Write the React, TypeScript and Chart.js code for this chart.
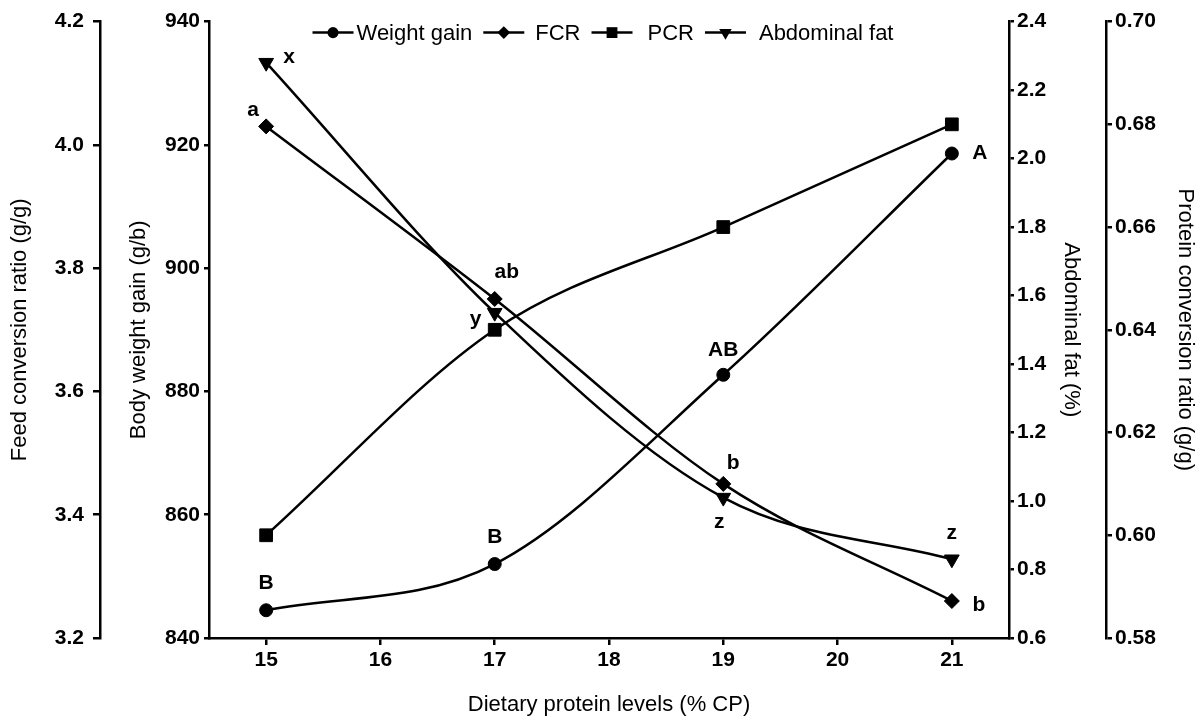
import React, { useEffect, useRef } from 'react';
import { Chart, registerables } from 'chart.js';

Chart.register(...registerables);

// ---------- data ----------
const xLevels = [15, 17, 19, 21];
const weightGain = [844.5, 852, 882.7, 918.6];
const fcr = [4.03, 3.75, 3.45, 3.26];
const pcr = [0.6, 0.64, 0.66, 0.68];
const abdominalFat = [2.28, 1.55, 1.01, 0.83];

const weightGainLetters = ['B', 'B', 'AB', 'A'];
const fcrLetters = ['a', 'ab', 'b', 'b'];
const abdominalFatLetters = ['x', 'y', 'z', 'z'];

const xTicks = [15, 16, 17, 18, 19, 20, 21];
const fcrTicks = [3.2, 3.4, 3.6, 3.8, 4.0, 4.2];
const bwgTicks = [840, 860, 880, 900, 920, 940];
const fatTicks = [0.6, 0.8, 1.0, 1.2, 1.4, 1.6, 1.8, 2.0, 2.2, 2.4];
const pcrTicks = [0.58, 0.6, 0.62, 0.64, 0.66, 0.68, 0.7];

const seriesNames = ['Weight gain', 'FCR', 'PCR', 'Abdominal fat'];

// ---------- styles ----------
const FAMILY = '"Liberation Sans", Arial, Helvetica, sans-serif';
const tickFont = { family: FAMILY, size: 21, weight: 'bold' as const };
const titleFont = { family: FAMILY, size: 22, weight: 'normal' as const };
const legendFontSize = 22;
const letterFontSize = 21;
const pointStyles = ['circle', 'rectRot', 'rect', 'triangle'];
const pointRotations = [0, 0, 0, 180];
const pointRadii = [6.5, 7.5, 9, 8.5];
const legendGaps = [3, 11, 15, 13];

const letterOffsets = {
  wg: [[0, -27], [0, -27], [0, -25], [28, 0]],
  fcr: [[-13, -16], [12, -27], [10, -21], [27, 4]],
  fat: [[23, -5], [-19, 7], [-4, 25], [0, -26]],
};

function drawMarker(ctx: CanvasRenderingContext2D, style: string, x: number, y: number, r: number) {
  ctx.beginPath();
  if (style === 'circle') {
    ctx.arc(x, y, r, 0, Math.PI * 2);
  } else if (style === 'rectRot') {
    ctx.moveTo(x - r, y);
    ctx.lineTo(x, y - r);
    ctx.lineTo(x + r, y);
    ctx.lineTo(x, y + r);
    ctx.closePath();
  } else if (style === 'rect') {
    const s = r * Math.SQRT1_2;
    ctx.rect(x - s, y - s, 2 * s, 2 * s);
  } else {
    const h = r;
    ctx.moveTo(x, y + h);
    ctx.lineTo(x + Math.sin((2 * Math.PI) / 3) * h, y - 0.5 * h);
    ctx.lineTo(x - Math.sin((2 * Math.PI) / 3) * h, y - 0.5 * h);
    ctx.closePath();
  }
  ctx.fill();
}

const legendPlugin = {
  id: 'customLegend',
  afterDraw(chart: any) {
    const ctx: CanvasRenderingContext2D = chart.ctx;
    const area = chart.chartArea;
    ctx.save();
    ctx.font = `${legendFontSize}px ${FAMILY}`;
    ctx.fillStyle = '#000';
    ctx.strokeStyle = '#000';
    ctx.lineWidth = 2.5;
    ctx.textBaseline = 'middle';
    ctx.textAlign = 'left';
    const lineLen = 41;
    const itemGap = 11;
    const widths = seriesNames.map((t, i) => lineLen + legendGaps[i] + ctx.measureText(t).width);
    const total = widths.reduce((a, b) => a + b, 0) + itemGap * (widths.length - 1);
    let x = (area.left + area.right) / 2 - total / 2 - 6;
    const y = area.top + 11;
    seriesNames.forEach((t, i) => {
      ctx.beginPath();
      ctx.moveTo(x, y);
      ctx.lineTo(x + lineLen, y);
      ctx.stroke();
      drawMarker(ctx, pointStyles[i], x + lineLen / 2, y, pointRadii[i] * 0.85);
      ctx.fillText(t, x + lineLen + legendGaps[i], y + 1);
      x += widths[i] + itemGap;
    });
    ctx.restore();
  },
};

const letterPlugin = {
  id: 'letters',
  afterDatasetsDraw(chart: any) {
    const ctx: CanvasRenderingContext2D = chart.ctx;
    const xs = chart.scales.x;
    const groups = [
      { scale: 'yBwg', values: weightGain, letters: weightGainLetters, offsets: letterOffsets.wg },
      { scale: 'yFcr', values: fcr, letters: fcrLetters, offsets: letterOffsets.fcr },
      { scale: 'yFat', values: abdominalFat, letters: abdominalFatLetters, offsets: letterOffsets.fat },
    ];
    ctx.save();
    ctx.font = `bold ${letterFontSize}px ${FAMILY}`;
    ctx.fillStyle = '#000';
    ctx.textAlign = 'center';
    ctx.textBaseline = 'middle';
    groups.forEach((g) => {
      g.letters.forEach((t, i) => {
        const px = xs.getPixelForValue(xLevels[i]) + g.offsets[i][0];
        const py = chart.scales[g.scale].getPixelForValue(g.values[i]) + g.offsets[i][1];
        ctx.fillText(t, px, py);
      });
    });
    ctx.restore();
  },
};

function yAxis(opts: {
  position: 'left' | 'right';
  weight: number;
  min: number;
  max: number;
  ticks: number[];
  decimals: number;
  title: string;
  titlePad: number;
  tickLength: number;
  tickPad: number;
  width: number;
}) {
  return {
    type: 'linear' as const,
    position: opts.position,
    weight: opts.weight,
    min: opts.min,
    max: opts.max,
    afterBuildTicks: (s: any) => {
      s.ticks = opts.ticks.map((v) => ({ value: v }));
    },
    afterFit: (s: any) => {
      s.width = opts.width;
    },
    grid: {
      display: true,
      drawOnChartArea: false,
      drawTicks: true,
      tickLength: opts.tickLength,
      color: '#000',
      lineWidth: 2.5,
    },
    border: { display: true, color: '#000', width: 2.5 },
    ticks: {
      color: '#000',
      font: tickFont,
      padding: opts.tickPad,
      autoSkip: false,
      callback: (v: any) => Number(v).toFixed(opts.decimals),
    },
    title: {
      display: true,
      text: opts.title,
      color: '#000',
      font: titleFont,
      padding: { top: opts.titlePad, bottom: 0 },
    },
  };
}

export default function App() {
  const canvasRef = useRef<HTMLCanvasElement | null>(null);

  useEffect(() => {
    document.body.style.margin = '0';
    const canvas = canvasRef.current;
    if (!canvas) return;
    const yIds = ['yBwg', 'yFcr', 'yPcr', 'yFat'];
    const series = [weightGain, fcr, pcr, abdominalFat];
    const chart = new Chart(canvas, {
      type: 'line',
      data: {
        datasets: series.map((vals, i) => ({
          label: seriesNames[i],
          data: vals.map((v, j) => ({ x: xLevels[j], y: v })),
          yAxisID: yIds[i],
          borderColor: '#000',
          backgroundColor: '#000',
          borderWidth: 2.5,
          cubicInterpolationMode: 'monotone' as const,
          pointStyle: pointStyles[i] as any,
          rotation: pointRotations[i],
          pointRadius: pointRadii[i],
          pointBackgroundColor: '#000',
          pointBorderColor: '#000',
          pointBorderWidth: 1,
          fill: false,
          clip: false as any,
        })),
      },
      options: {
        responsive: false,
        animation: false,
        layout: { padding: { top: 20, left: 0, right: 0, bottom: 0 } },
        plugins: {
          legend: { display: false },
          tooltip: { enabled: false },
        },
        scales: {
          x: {
            type: 'linear',
            min: 14.5,
            max: 21.5,
            afterBuildTicks: (s: any) => {
              s.ticks = xTicks.map((v) => ({ value: v }));
            },
            afterFit: (s: any) => {
              s.height = 81;
            },
            grid: {
              display: true,
              drawOnChartArea: false,
              drawTicks: true,
              tickLength: 7,
              color: '#000',
              lineWidth: 2.5,
            },
            border: { display: true, color: '#000', width: 2.5 },
            ticks: { color: '#000', font: tickFont, padding: 3, maxRotation: 0, autoSkip: false },
            title: {
              display: true,
              text: 'Dietary protein levels (% CP)',
              color: '#000',
              font: titleFont,
              padding: { top: 0, bottom: 1 },
            },
          },
          yFcr: yAxis({
            position: 'left', weight: 1, min: 3.2, max: 4.2, ticks: fcrTicks, decimals: 1,
            title: 'Feed conversion ratio (g/g)', titlePad: 7, tickLength: 7, tickPad: 9, width: 100,
          }),
          yBwg: yAxis({
            position: 'left', weight: 0, min: 840, max: 940, ticks: bwgTicks, decimals: 0,
            title: 'Body weight gain (g/b)', titlePad: 26, tickLength: 5, tickPad: 4, width: 109,
          }),
          yFat: yAxis({
            position: 'right', weight: 0, min: 0.6, max: 2.4, ticks: fatTicks, decimals: 1,
            title: 'Abdominal fat (%)', titlePad: 22, tickLength: 5, tickPad: 3, width: 97,
          }),
          yPcr: yAxis({
            position: 'right', weight: 1, min: 0.58, max: 0.7, ticks: pcrTicks, decimals: 2,
            title: 'Protein conversion ratio (g/g)', titlePad: 0, tickLength: 6, tickPad: 3, width: 92,
          }),
        } as any,
      },
      plugins: [letterPlugin, legendPlugin],
    });
    return () => chart.destroy();
  }, []);

  return (
    <div style={{ width: 1198, height: 719 }}>
      <canvas ref={canvasRef} width={1198} height={719} />
    </div>
  );
}
